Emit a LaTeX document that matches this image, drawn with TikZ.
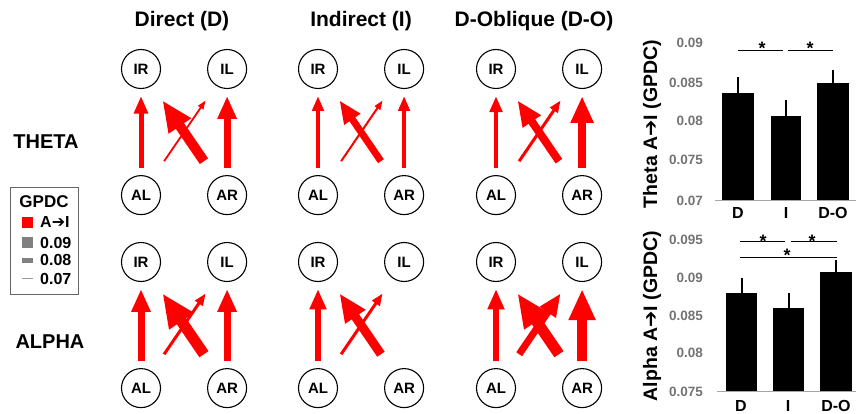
\documentclass[tikz,border=0pt]{standalone}
\usepackage{fontspec}
\setmainfont{Liberation Sans}
\newfontfamily\arrowfont{DejaVu Sans}
\usepackage{tikz}
\usetikzlibrary{arrows.meta, positioning}
\newcommand{\AtoI}{A{\arrowfont ➔}I}
\tikzset{
    region/.style={circle, draw, line width=1.1pt, minimum size=39pt, inner sep=0pt, font=\fontsize{15}{15}\selectfont\bfseries},
    flow/.style={red, line width=#1, -{Triangle[length=4pt 2.7, width=2pt 2.3]}},
    up/.style={shorten <=7pt, shorten >=7pt},
    cross/.style={shorten <=21pt, shorten >=18pt},
    title/.style={font=\fontsize{21}{21}\selectfont\bfseries},
    band/.style={font=\fontsize{20}{20}\selectfont\bfseries},
    key/.style={anchor=west, inner sep=0pt, font=\fontsize{16}{16}\selectfont\bfseries},
    tick/.style={anchor=east, inner sep=0pt, text=black!55, font=\fontsize{13.5}{13.5}\selectfont\bfseries},
    group/.style={inner sep=0pt, font=\fontsize{16}{16}\selectfont\bfseries},
    ylab/.style={rotate=90, inner sep=0pt, font=\fontsize{19.5}{19.5}\selectfont\bfseries},
    sig/.style={anchor=base, inner sep=0pt, font=\fontsize{18}{18}\selectfont\bfseries},
    whisker/.style={line width=2pt},
    baseline/.style={draw=black!35, line width=0.8pt}
}
\begin{document}
\begin{tikzpicture}[x=1pt, y=-1pt]
  \useasboundingbox (0,0) rectangle (856,414);

  % column and row headings
  \node[title] (colD) at (182,21) {Direct (D)};
  \node[title] (colI) at (361,21) {Indirect (I)};
  \node[title] (colO) at (534,21) {D-Oblique (D-O)};
  \node[band] (theta) at (46,142) {THETA};
  \node[band] (alpha) at (50,342) {ALPHA};

  % legend
  \draw[draw=black!60, line width=0.8pt] (10,187) rectangle (78,294);
  \node[font=\fontsize{17}{17}\selectfont\bfseries] (gpdc) at (44,202) {GPDC};
  \fill[red] (22,217) rectangle (33,228);
  \node[key] (kA) at (40,222) {\AtoI};
  \fill[black!50] (22,237) rectangle (33,248);
  \node[key] (k09) at (40,243) {0.09};
  \fill[black!50] (22,257.5) rectangle (33,262.5);
  \node[key] (k08) at (40,260) {0.08};
  \draw[black!40, line width=1.5pt] (22,278.5) -- (33,278.5);
  \node[key] (k07) at (40,279) {0.07};

  % the four regions in each panel
  \foreach \p/\x/\y in {td/141/69, ti/318/69, to/496/69, bd/141/262, bi/318/262, bo/496/262} {
    \node[region] (IR-\p) at (\x,\y) {IR};
    \node[region, right=46pt of IR-\p] (IL-\p) {IL};
    \node[region, below=86pt of IR-\p] (AL-\p) {AL};
    \node[region, below=86pt of IL-\p] (AR-\p) {AR};
  }

  % theta
  \draw[flow=5pt, up] (AL-td) -- (IR-td);
  \draw[flow=7pt, up] (AR-td) -- (IL-td);
  \draw[flow=10pt, cross] (AR-td) -- (IR-td);
  \draw[flow=1.8pt, cross] (AL-td) -- (IL-td);

  \draw[flow=4pt, up] (AL-ti) -- (IR-ti);
  \draw[flow=4pt, up] (AR-ti) -- (IL-ti);
  \draw[flow=7pt, cross] (AR-ti) -- (IR-ti);
  \draw[flow=2pt, cross] (AL-ti) -- (IL-ti);

  \draw[flow=4.5pt, up] (AL-to) -- (IR-to);
  \draw[flow=8.5pt, up] (AR-to) -- (IL-to);
  \draw[flow=8pt, cross] (AR-to) -- (IR-to);
  \draw[flow=3pt, cross] (AL-to) -- (IL-to);

  % alpha
  \draw[flow=7pt, up] (AL-bd) -- (IR-bd);
  \draw[flow=7pt, up] (AR-bd) -- (IL-bd);
  \draw[flow=11pt, cross] (AR-bd) -- (IR-bd);
  \draw[flow=3pt, cross] (AL-bd) -- (IL-bd);

  \draw[flow=6pt, up] (AL-bi) -- (IR-bi);
  \draw[flow=9pt, cross] (AR-bi) -- (IR-bi);
  \draw[flow=3pt, cross] (AL-bi) -- (IL-bi);

  \draw[flow=6pt, up] (AL-bo) -- (IR-bo);
  \draw[flow=10pt, up] (AR-bo) -- (IL-bo);
  \draw[flow=11pt, cross] (AR-bo) -- (IR-bo);
  \draw[flow=7pt, cross] (AL-bo) -- (IL-bo);

  % theta bar chart
  \node[ylab] (ythe) at (652,124) {Theta \AtoI{} (GPDC)};
  \foreach \v/\y in {0.09/43, 0.085/83, 0.08/121, 0.075/160, 0.07/201}
    \node[tick] (tt\y) at (703,\y) {\v};
  \draw[baseline] (715,200) -- (856,200);
  \foreach \n/\xa/\xb/\top/\err in {D/722/754/93/77, I/771/801/116/100, O/817/849/83/70} {
    \fill (\xa,200) rectangle (\xb,\top);
    \draw[whisker] ({(\xa+\xb)/2},\top) -- ({(\xa+\xb)/2},\err);
  }
  \node[group] (xtD) at (738,213) {D};
  \node[group] (xtI) at (786,213) {I};
  \node[group] (xtO) at (833,213) {D-O};
  \draw (738,50) -- (783,50);
  \draw (788,50) -- (833,50);
  \node[sig] (st1) at (762,55) {*};
  \node[sig] (st2) at (810,55) {*};

  % alpha bar chart
  \node[ylab] (yalp) at (652,316) {Alpha \AtoI{} (GPDC)};
  \foreach \v/\y in {0.095/240, 0.09/278, 0.085/316, 0.08/353, 0.075/392}
    \node[tick] (ta\y) at (703,\y) {\v};
  \draw[baseline] (717,391) -- (856,391);
  \foreach \n/\xa/\xb/\top/\err in {D/726/757/293/278, I/773/804/308/293, O/820/852/272/260} {
    \fill (\xa,391) rectangle (\xb,\top);
    \draw[whisker] ({(\xa+\xb)/2},\top) -- ({(\xa+\xb)/2},\err);
  }
  \node[group] (xaD) at (741,406) {D};
  \node[group] (xaI) at (788,406) {I};
  \node[group] (xaO) at (836,406) {D-O};
  \draw (740,241) -- (785,241);
  \draw (791,241) -- (837,241);
  \draw (740,257) -- (837,257);
  \node[sig] (sa1) at (763,247) {*};
  \node[sig] (sa2) at (812,247) {*};
  \node[sig] (sa3) at (787,261) {*};
\end{tikzpicture}
\end{document}
